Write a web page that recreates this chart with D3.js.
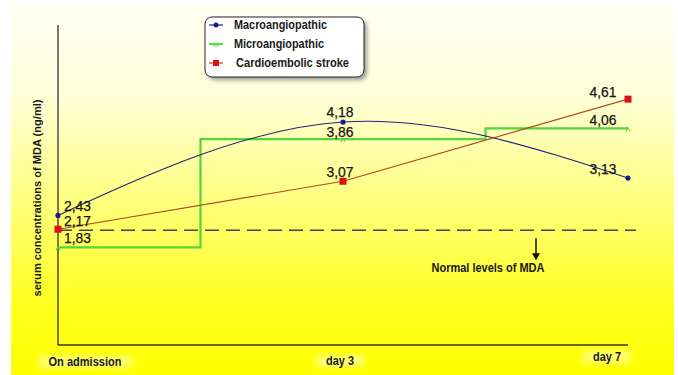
<!DOCTYPE html>
<html>
<head>
<meta charset="utf-8">
<script src="https://cdn.jsdelivr.net/npm/d3@7"></script>
<style>
  body { margin: 0; background: #fff; }
  svg { display: block; }
  .num { font-family: "Liberation Sans", Arial, sans-serif; font-size: 15px; fill: #151515; stroke: #151515; stroke-width: 0.25px; }
  .lab { font-family: "Liberation Sans", Arial, sans-serif; font-weight: bold; fill: #1a1a1a; }
</style>
</head>
<body>
<svg></svg>
<script>
	var width = 678,
		height = 375;

	// data
	var days = ["On admission", "day 3", "day 7"];
	var macro = [2.43, 4.18, 3.13];
	var micro = [1.83, 3.86, 4.06];
	var cardio = [2.17, 3.07, 4.61];
	var normalLevel = 2.15;
	var seriesNames = ["Macroangiopathic", "Microangiopathic", "Cardioembolic stroke"];

	var x = d3.scalePoint().domain(days).range([58, 628]);
	var y = d3.scaleLinear().domain([0, 6]).range([345, 25]);

	var svg = d3.select("svg")
		.attr("width", width)
		.attr("height", height);

	var defs = svg.append("defs");
	var grad = defs.append("linearGradient")
		.attr("id", "bg")
		.attr("x1", 0).attr("y1", 0).attr("x2", 0).attr("y2", 1);
	grad.append("stop").attr("offset", "0%").attr("stop-color", "#fffff4");
	grad.append("stop").attr("offset", "25%").attr("stop-color", "#ffffd8");
	grad.append("stop").attr("offset", "55%").attr("stop-color", "#ffff78");
	grad.append("stop").attr("offset", "80%").attr("stop-color", "#ffff22");
	grad.append("stop").attr("offset", "100%").attr("stop-color", "#ffff00");

	var shadow = defs.append("filter").attr("id", "shadow")
		.attr("x", "-20%").attr("y", "-20%").attr("width", "150%").attr("height", "160%");
	shadow.append("feGaussianBlur").attr("stdDeviation", 2);
	var soft = defs.append("filter").attr("id", "soft")
		.attr("x", "-30%").attr("y", "-60%").attr("width", "160%").attr("height", "220%");
	soft.append("feGaussianBlur").attr("stdDeviation", 3);

	svg.append("rect")
		.attr("x", 11).attr("y", 4)
		.attr("width", 663).attr("height", 371)
		.attr("fill", "url(#bg)");

	// axes
	svg.append("line")
		.attr("x1", x(days[0])).attr("x2", x(days[0]))
		.attr("y1", y(6)).attr("y2", y(0))
		.attr("stroke", "#333").attr("stroke-width", 1.3);
	svg.append("line")
		.attr("x1", x(days[0])).attr("x2", x(days[2]))
		.attr("y1", y(0)).attr("y2", y(0))
		.attr("stroke", "#333").attr("stroke-width", 1.3);

	// category labels, with the faint pale patches behind them
	var catPos = [{dx: 27, dy: 17, w: 73}, {dx: -3, dy: 16, w: 28}, {dx: -21, dy: 12, w: 28}];
	svg.selectAll(".catbg").data(days).enter().append("rect")
		.attr("x", function(d, i) { return x(d) + catPos[i].dx - catPos[i].w / 2 - 10; })
		.attr("y", function(d, i) { return y(0) + catPos[i].dy - 6; })
		.attr("width", function(d, i) { return catPos[i].w + 20; }).attr("height", 12)
		.attr("fill", "#ffffd0").attr("opacity", 0.55).attr("filter", "url(#soft)");
	svg.selectAll(".cat").data(days).enter().append("text")
		.attr("class", "lab")
		.attr("x", function(d, i) { return x(d) + catPos[i].dx; })
		.attr("y", function(d, i) { return y(0) + catPos[i].dy; })
		.attr("dy", "0.35em")
		.attr("text-anchor", "middle")
		.attr("textLength", function(d, i) { return catPos[i].w; })
		.attr("lengthAdjust", "spacingAndGlyphs")
		.style("font-size", "12.5px")
		.text(function(d) { return d; });

	svg.append("text")
		.attr("class", "lab")
		.attr("transform", "translate(37,198) rotate(-90)")
		.attr("text-anchor", "middle")
		.attr("dy", "0.35em")
		.attr("textLength", 197)
		.attr("lengthAdjust", "spacingAndGlyphs")
		.style("font-size", "10.5px")
		.text("serum concentrations of MDA (ng/ml)");

	// normal level
	svg.append("line")
		.attr("x1", x(days[0])).attr("x2", 636)
		.attr("y1", y(normalLevel)).attr("y2", y(normalLevel))
		.attr("stroke", "#444").attr("stroke-width", 1.5)
		.attr("stroke-dasharray", "14,7");
	svg.append("line")
		.attr("x1", 536).attr("x2", 536)
		.attr("y1", y(normalLevel) + 8).attr("y2", y(normalLevel) + 27)
		.attr("stroke", "#111").attr("stroke-width", 1.5);
	svg.append("path")
		.attr("d", "M532," + (y(normalLevel) + 23) + "L536," + (y(normalLevel) + 30) + "L540," + (y(normalLevel) + 23) + "Z")
		.attr("fill", "#111");
	svg.append("text")
		.attr("class", "lab")
		.attr("x", 488).attr("y", y(normalLevel) + 42)
		.attr("text-anchor", "middle")
		.attr("textLength", 113)
		.attr("lengthAdjust", "spacingAndGlyphs")
		.style("font-size", "12.5px")
		.text("Normal levels of MDA");

	var pts = function(vals) { return vals.map(function(v, i) { return [x(days[i]), y(v)]; }); };

	// series lines
	svg.append("path")
		.attr("d", d3.line().curve(d3.curveStep)(pts(micro)))
		.attr("fill", "none").attr("stroke", "#52d63a").attr("stroke-width", 2.2);
	svg.append("path")
		.attr("d", d3.line().curve(d3.curveNatural)(pts(macro)))
		.attr("fill", "none").attr("stroke", "#22227a").attr("stroke-width", 1.1);
	svg.append("path")
		.attr("d", d3.line()(pts(cardio)))
		.attr("fill", "none").attr("stroke", "#b24a1e").attr("stroke-width", 1.2);

	// markers
	svg.selectAll(".mk1").data(pts(macro)).enter().append("circle")
		.attr("cx", function(d) { return d[0]; }).attr("cy", function(d) { return d[1]; })
		.attr("r", 2.6).attr("fill", "#1a1a90");
	svg.selectAll(".mk2").data(pts(micro)).enter().append("path")
		.attr("d", function(d) { return "M" + (d[0] - 2) + "," + (d[1] + 3) + "L" + d[0] + "," + (d[1] - 1) + "L" + (d[0] + 2) + "," + (d[1] + 3); })
		.attr("fill", "none").attr("stroke", "#52d63a").attr("stroke-width", 1);
	svg.selectAll(".mk3").data(pts(cardio)).enter().append("rect")
		.attr("x", function(d) { return d[0] - 3.5; }).attr("y", function(d) { return d[1] - 3.5; })
		.attr("width", 7).attr("height", 7).attr("fill", "#dd1111");

	// value labels
	var labelOff = {
		macro: [{dx: 6, dy: -4}, {dx: -3, dy: -5}, {dx: -25, dy: -4}],
		micro: [{dx: 6, dy: -4}, {dx: -3, dy: -2}, {dx: -25, dy: -3}],
		cardio: [{dx: 6, dy: -3}, {dx: -3, dy: -4}, {dx: -25, dy: -2}]
	};
	var addLabels = function(vals, offs) {
		svg.selectAll(null).data(vals).enter().append("text")
			.attr("class", "num")
			.attr("x", function(d, i) { return x(days[i]) + offs[i].dx - (i == 0 ? 0 : 13.5); })
			.attr("y", function(d, i) { return y(d) + offs[i].dy; })
			.attr("textLength", 27)
			.attr("lengthAdjust", "spacingAndGlyphs")
			.text(function(d) { return d.toFixed(2).replace(".", ","); });
	};
	addLabels(macro, labelOff.macro);
	addLabels(micro, labelOff.micro);
	addLabels(cardio, labelOff.cardio);

	// legend
	var lg = svg.append("g").attr("transform", "translate(205,17)");
	lg.append("rect")
		.attr("x", 3).attr("y", 3).attr("width", 159).attr("height", 60).attr("rx", 7)
		.attr("fill", "#9a9a9a").attr("filter", "url(#shadow)");
	lg.append("rect")
		.attr("width", 159).attr("height", 60).attr("rx", 7)
		.attr("fill", "#fff").attr("stroke", "#222").attr("stroke-width", 1);
	var rows = lg.selectAll(".row").data(seriesNames).enter().append("g")
		.attr("transform", function(d, i) { return "translate(0," + (8 + i * 19) + ")"; });
	var legColors = ["#22227a", "#52d63a", "#b24a1e"];
	var legWidths = [93, 90, 113];
	rows.append("line")
		.attr("x1", 4).attr("x2", 18).attr("y1", 0).attr("y2", 0)
		.attr("stroke", function(d, i) { return legColors[i]; })
		.attr("stroke-width", function(d, i) { return i == 1 ? 2 : 1.2; });
	rows.filter(function(d, i) { return i == 0; }).append("circle")
		.attr("cx", 11).attr("r", 2.5).attr("fill", "#1a1a90");
	rows.filter(function(d, i) { return i == 1; }).append("path")
		.attr("d", "M9,3L11,-1L13,3").attr("fill", "none").attr("stroke", "#52d63a");
	rows.filter(function(d, i) { return i == 2; }).append("rect")
		.attr("x", 8).attr("y", -3).attr("width", 6).attr("height", 6).attr("fill", "#dd1111");
	rows.append("text")
		.attr("class", "lab")
		.attr("x", function(d, i) { return i == 2 ? 31 : 29; })
		.attr("dy", "0.35em")
		.attr("textLength", function(d, i) { return legWidths[i]; })
		.attr("lengthAdjust", "spacingAndGlyphs")
		.style("font-size", "12px")
		.text(function(d) { return d; });
</script>
</body>
</html>
